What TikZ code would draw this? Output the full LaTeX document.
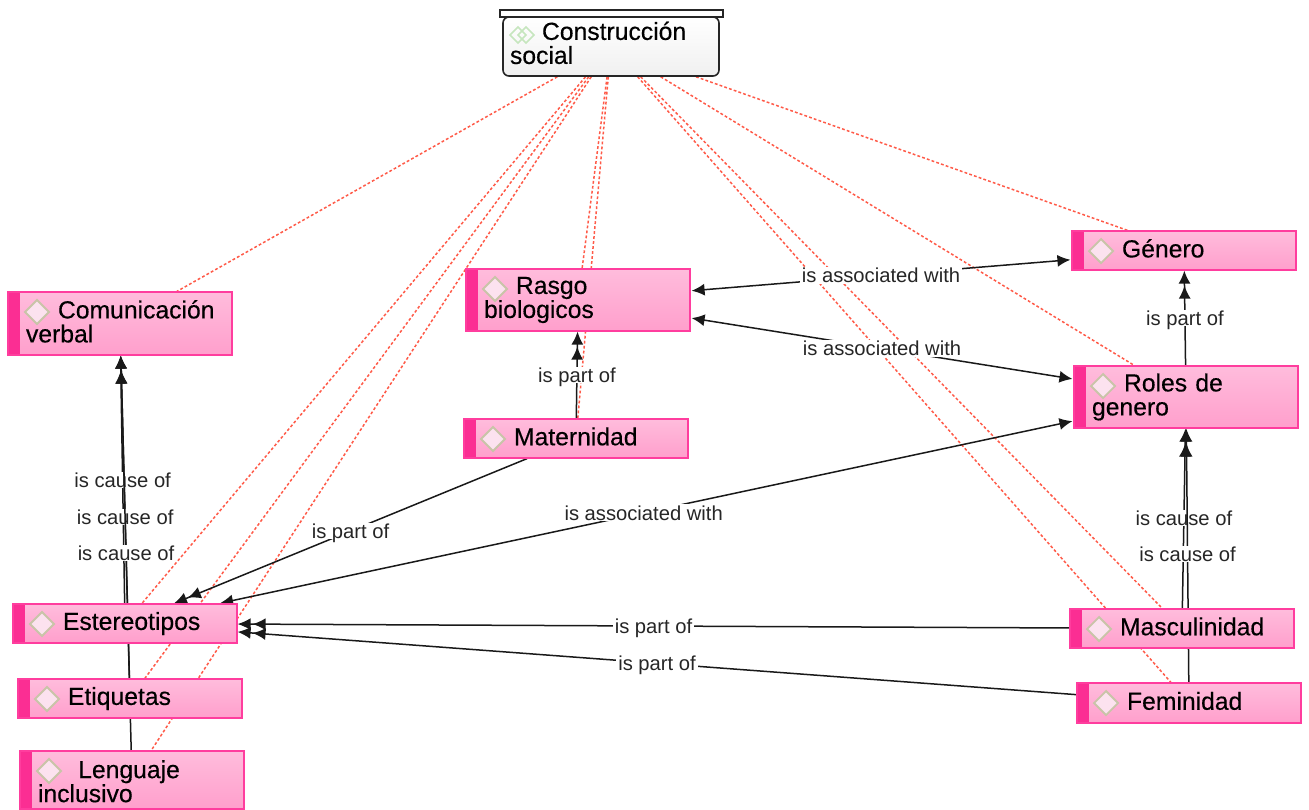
\documentclass[tikz,border=0pt]{standalone}
\usepackage{fontspec}
\setmainfont{Liberation Sans}
\newfontface\cfont[FakeBold=0.35]{Liberation Sans}
\usetikzlibrary{arrows.meta,backgrounds}
\definecolor{pinkedge}{HTML}{FF3D9E}
\definecolor{pinkbar}{HTML}{FB2E93}
\definecolor{pinktop}{HTML}{FFBCDC}
\definecolor{pinkbot}{HTML}{FF9FCC}
\definecolor{iconfill}{HTML}{FCE2EF}
\definecolor{iconedge}{HTML}{C9C4A8}
\definecolor{greenicon}{HTML}{C6E6BE}
\definecolor{reddash}{HTML}{FF5A48}
\tikzset{
  x=0.5pt,y=-0.5pt,
  conceptbox/.style={rectangle,draw=pinkedge,line width=0.6pt,top color=pinktop,bottom color=pinkbot,inner ysep=0pt,inner xsep=9pt,align=left,font=\cfont\fontsize{12.35}{12}\selectfont,text=black},
  iconmark/.style={draw=iconedge,fill=iconfill,line width=0.9pt},
  relline/.style={draw=black!90,line width=0.75pt},
  dashlink/.style={draw=reddash,line width=0.75pt,dash pattern=on 1.4pt off 1.1pt},
  lab/.style={fill=white,inner xsep=1pt,inner ysep=0.5pt,text depth=0pt,font=\fontsize{10.1}{12}\selectfont,text=black!85},
  twotip/.style={-{Latex[length=6.5pt,width=6pt,sep=1pt]Latex[length=6.5pt,width=6pt]}},
  bothtip/.style={{Latex[length=6.5pt,width=6pt]}-{Latex[length=6.5pt,width=6pt]},shorten >=0.5pt,shorten <=0.5pt},
}
\newcommand{\cst}{\rule[-2.2pt]{0pt}{9.8pt}}
\newcommand{\firstline}{\hspace*{16pt}\cst}
% name, x0, y0, x1, y1, text
\newcommand{\conceptnode}[6]{%
  \pgfmathsetmacro{\cwd}{(#4-#2)*0.5}%
  \pgfmathsetmacro{\cht}{(#5-#3)*0.5}%
  \pgfmathsetmacro{\ctw}{(#4-#2)*0.5-18}%
  \node[conceptbox,minimum width=\cwd pt,minimum height=\cht pt,text width=\ctw pt] (#1) at ({(#2+#4)/2},{(#3+#5)/2}) {#6};
  \fill[pinkbar] (#2,#3) rectangle ({#2+11.5},#5);
  \draw[pinkedge,line width=0.6pt] (#2,#3) rectangle (#4,#5);
  \draw[iconmark] ({#2+17},{#3+20}) -- ({#2+29},{#3+8}) -- ({#2+41},{#3+20}) -- ({#2+29},{#3+32}) -- cycle;
}
\begin{document}
\begin{tikzpicture}
\useasboundingbox (0,0) rectangle (1309,809);
% Top concept
\node[rectangle,draw=black!85,line width=0.8pt,rounded corners=3pt,top color=white,bottom color=black!6,minimum width=108pt,minimum height=29.5pt,inner ysep=0pt,inner xsep=3.5pt,text width=101pt,align=left,font=\cfont\fontsize{12.35}{12}\selectfont] (top) at (611,46.5) {\firstline Construcción\\\cst social\rule[-3.7pt]{0pt}{1pt}};
\draw[draw=black!85,line width=1pt,fill=white] (500,10) rectangle (723,16.5);
\foreach \cx in {526,518}{\draw[greenicon,line width=0.8pt] ({\cx-8},35) -- (\cx,27) -- ({\cx+8},35) -- (\cx,43) -- cycle;}
% Concepts
\conceptnode{com}{8}{292}{232}{355}{\firstline Comunicación\\\cst verbal}
\conceptnode{ras}{466}{269}{690}{331}{\firstline Rasgo\\\cst biologicos}
\conceptnode{gen}{1072}{231}{1296}{270}{\firstline Género}
\conceptnode{rol}{1074}{366}{1298}{428}{\firstline Roles de\\\cst genero}
\conceptnode{mat}{464}{419}{688}{458}{\firstline Maternidad}
\conceptnode{est}{13}{604}{237}{643}{\firstline Estereotipos}
\conceptnode{eti}{18}{679}{242}{718}{\firstline Etiquetas}
\conceptnode{len}{20}{751}{244}{809}{\firstline\rule{0pt}{12.3pt} Lenguaje\\\cst inclusivo}
\conceptnode{mas}{1070}{609}{1294}{648}{\firstline Masculinidad}
\conceptnode{fem}{1077}{683}{1301}{723}{\firstline Feminidad}
\begin{pgfonlayer}{background}
  \foreach \t in {com,ras,gen,rol,mat,est,eti,len,mas,fem}{\draw[dashlink] (top) -- (\t);}
  \draw[relline,twotip] (est) -- node[lab,pos=.498]{is cause of} (com);
  \draw[relline,twotip] (eti) -- node[lab,pos=.5]{is cause of} (com);
  \draw[relline,twotip] (len) -- node[lab,pos=.5]{is cause of} (com);
  \draw[relline,twotip] (mat) -- node[lab,pos=.5]{is part of} (ras);
  \draw[relline,bothtip] (ras) -- node[lab,pos=.5]{is associated with} (gen);
  \draw[relline,bothtip] (ras) -- node[lab,pos=.5]{is associated with} (rol);
  \draw[relline,twotip] (rol) -- node[lab,pos=.5]{is part of} (gen);
  \draw[relline,twotip] (mat) -- node[lab,pos=.5]{is part of} (est);
  \draw[relline,bothtip] (est) -- node[lab,pos=.497]{is associated with} (rol);
  \draw[relline,twotip] (mas) -- node[lab,pos=.5]{is part of} (est);
  \draw[relline,twotip] (fem) -- node[lab,pos=.5]{is part of} (est);
  \draw[relline,twotip] (mas) -- node[lab,pos=.503]{is cause of} (rol);
  \draw[relline,twotip] (fem) -- node[lab,pos=.506]{is cause of} (rol);
\end{pgfonlayer}
\end{tikzpicture}
\end{document}
